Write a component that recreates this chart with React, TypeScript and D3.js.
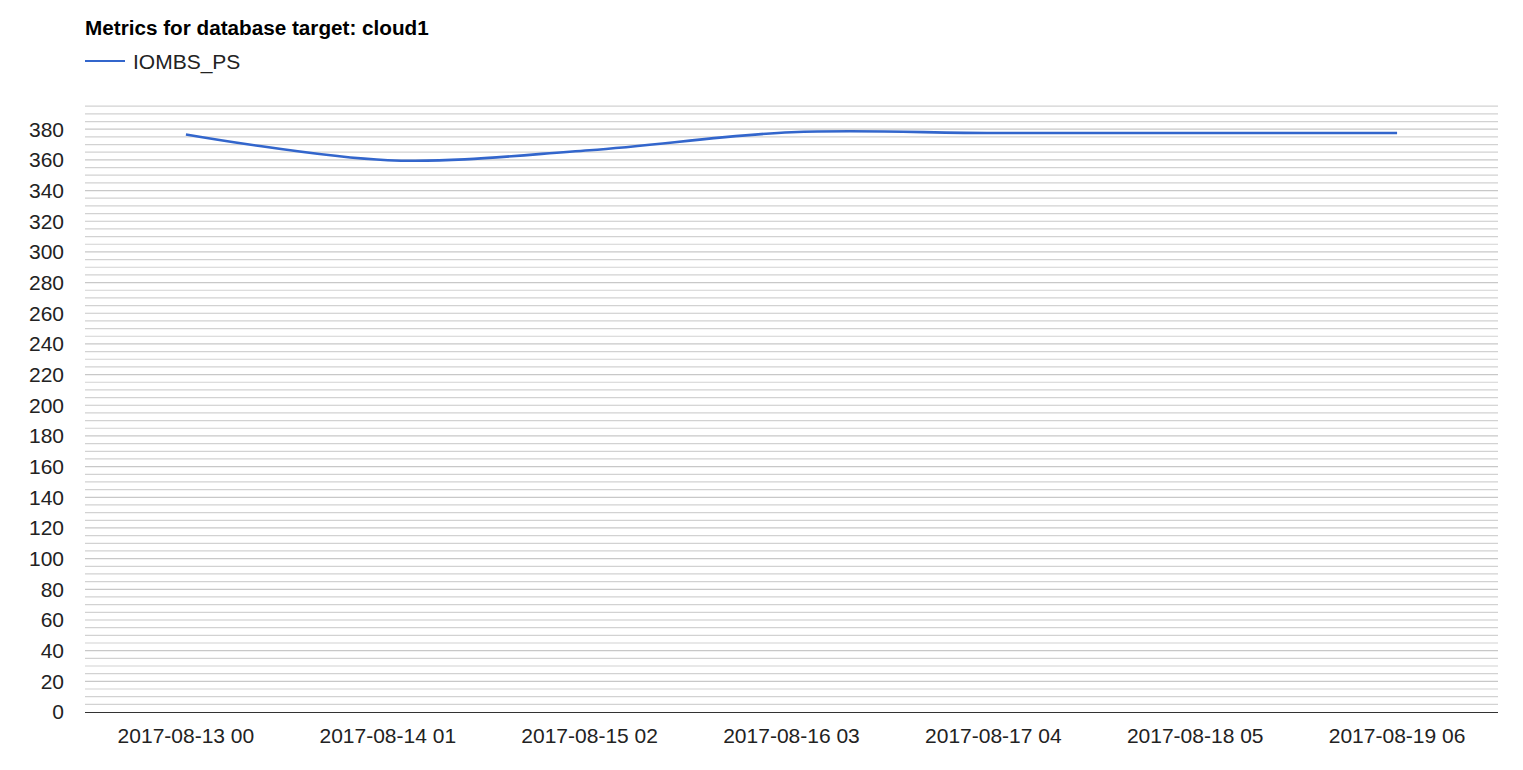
import React from "react";
import * as d3 from "d3";

const categories = [
  "2017-08-13 00",
  "2017-08-14 01",
  "2017-08-15 02",
  "2017-08-16 03",
  "2017-08-17 04",
  "2017-08-18 05",
  "2017-08-19 06",
];
const iombsValues = [376.6, 359.8, 366.3, 378, 377.5, 377.5, 377.5];
const yTickValues = [0, 20, 40, 60, 80, 100, 120, 140, 160, 180, 200, 220, 240, 260, 280, 300, 320, 340, 360, 380];
const gridStep = 5;
const yMax = 395;
const seriesName = "IOMBS_PS";
const title = "Metrics for database target: cloud1";

const W = 1523;
const H = 770;
const left = 85;
const right = 1498;
const bottom = 712;
const top = 106.2;
const font = "Arial, 'Liberation Sans', sans-serif";

export default function App() {
  const x = d3.scalePoint<string>().domain(categories).range([left, right]).padding(0.5);
  const y = d3.scaleLinear().domain([0, yMax]).range([bottom, top]);
  const gridVals = d3.range(gridStep, yMax + 0.001, gridStep);
  const line = d3
    .line<number>()
    .x((_, i) => x(categories[i]) as number)
    .y((d) => y(d))
    .curve(d3.curveCardinal.tension(0));
  return (
    <svg width={W} height={H} style={{ position: "absolute", left: 0, top: 0, background: "#fff" }}>
      <text x={85} y={35} fontFamily={font} fontSize={20.7} fontWeight="bold" fill="#000">
        {title}
      </text>
      <line x1={85} x2={125} y1={61} y2={61} stroke="#3366cc" strokeWidth={2} />
      <text x={133} y={68.5} fontFamily={font} fontSize={21} fill="#222">
        {seriesName}
      </text>
      {gridVals.map((v) => (
        <line
          key={v}
          x1={left}
          x2={right}
          y1={y(v)}
          y2={y(v)}
          stroke={v % 20 === 0 ? "#c8c8c8" : "#d2d2d2"}
          strokeWidth={1.2}
        />
      ))}
      <line x1={left} x2={right} y1={bottom + 0.5} y2={bottom + 0.5} stroke="#333" strokeWidth={1.2} />
      {yTickValues.map((v) => (
        <text key={v} x={64} y={y(v)} dy="0.35em" textAnchor="end" fontFamily={font} fontSize={21} fill="#222">
          {v}
        </text>
      ))}
      {categories.map((c) => (
        <text key={c} x={x(c)} y={743} textAnchor="middle" fontFamily={font} fontSize={21} fill="#222">
          {c}
        </text>
      ))}
      <path d={line(iombsValues) || ""} fill="none" stroke="#3366cc" strokeWidth={2.6} />
    </svg>
  );
}
